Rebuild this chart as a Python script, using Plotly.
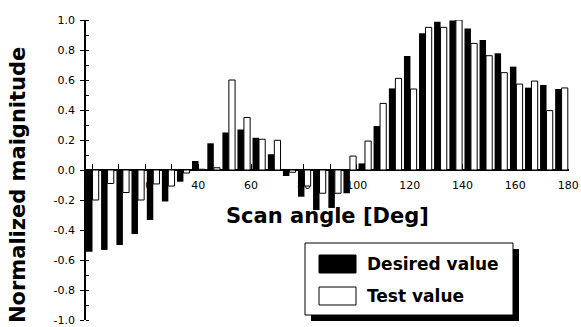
import plotly.graph_objects as go

# Scan angles (deg)
angles = [0, 5.7, 11.5, 17.2, 23.0, 28.7, 34.4, 40.1, 45.9, 51.6, 57.3, 63.0,
          68.8, 74.5, 80.2, 85.9, 91.7, 97.4, 103.1, 108.8, 114.6, 120.3, 126.0,
          131.7, 137.5, 143.2, 148.9, 154.6, 160.4, 166.1, 171.8, 177.5]

desired_value = [-0.545, -0.533, -0.50, -0.427, -0.333, -0.21, -0.078, 0.06,
                 0.178, 0.25, 0.27, 0.215, 0.105, -0.04, -0.178, -0.267, -0.253,
                 -0.155, 0.044, 0.293, 0.544, 0.76, 0.911, 0.989, 0.996, 0.944,
                 0.867, 0.778, 0.689, 0.549, 0.567, 0.54]

test_value = [-0.20, -0.09, -0.15, -0.20, -0.093, -0.107, -0.02, 0.005,
              0.015, 0.60, 0.35, 0.205, 0.198, -0.015, -0.107, -0.155, -0.155,
              0.093, 0.193, 0.444, 0.611, 0.54, 0.951, 0.951, 1.0, 0.844,
              0.762, 0.649, 0.573, 0.593, 0.396, 0.547]

x_ticks = [0, 20, 40, 60, 80, 100, 120, 140, 160, 180]
y_ticks = [-1.0, -0.8, -0.6, -0.4, -0.2, 0.0, 0.2, 0.4, 0.6, 0.8, 1.0]

W, H = 581, 327
L, R, T, B = 86, 12, 20, 7
PW, PH = W - L - R, H - T - B

def px(x):
    return (x - L) / PW

def py(y):
    return (H - B - y) / PH

fig = go.Figure()
fig.add_trace(go.Bar(x=angles, y=desired_value, name="Desired value",
                     offset=-2.45, width=2.45,
                     marker=dict(color="black", line=dict(width=0))))
fig.add_trace(go.Bar(x=angles, y=test_value, name="Test value",
                     offset=0, width=2.35,
                     marker=dict(color="white", line=dict(color="black", width=1))))

tick_font = dict(family="DejaVu Sans", size=11, color="black")

fig.update_layout(
    width=W, height=H,
    margin=dict(l=L, r=R, t=T, b=B, autoexpand=False),
    paper_bgcolor="white", plot_bgcolor="white",
    barmode="overlay", showlegend=False,
    xaxis=dict(range=[-2.46, 180.3], anchor="free", position=0.5,
               automargin=False,
               showline=True, linecolor="black", linewidth=1.5,
               tickvals=x_ticks, ticktext=[str(v) for v in x_ticks],
               ticks="inside", ticklen=5, tickcolor="black",
               minor=dict(tickvals=[10, 30, 50, 70, 90, 110, 130, 150, 170],
                          ticks="inside", ticklen=5, tickcolor="black"),
               showgrid=False, zeroline=False, tickfont=tick_font,
               layer="below traces", ticklabelstandoff=5),
    yaxis=dict(range=[-1, 1], automargin=False,
               showline=True, linecolor="black", linewidth=1.5,
               tickvals=y_ticks, ticktext=["%.1f" % v for v in y_ticks],
               ticks="outside", ticklen=4, tickcolor="black",
               minor=dict(dtick=0.1, ticks="inside", ticklen=3, tickcolor="black"),
               showgrid=False, zeroline=False, tickfont=tick_font,
               layer="below traces", ticklabelstandoff=3),
)

title_font = dict(family="DejaVu Sans", size=21, color="black", weight="bold")
fig.add_annotation(text="Normalized maignitude", xref="paper", yref="paper",
                   x=px(18), y=py(185), textangle=-90, showarrow=False,
                   xanchor="center", yanchor="middle", font=title_font)
fig.add_annotation(text="Scan angle [Deg]", xref="paper", yref="paper",
                   x=px(327), y=py(216), showarrow=False,
                   xanchor="center", yanchor="middle", font=title_font)

# Legend box with drop shadow
fig.add_shape(type="rect", xref="paper", yref="paper",
              x0=px(311), x1=px(519), y0=py(321), y1=py(249),
              fillcolor="black", line=dict(width=0))
fig.add_shape(type="rect", xref="paper", yref="paper",
              x0=px(305), x1=px(513), y0=py(315), y1=py(243),
              fillcolor="white", line=dict(color="black", width=1))
fig.add_shape(type="rect", xref="paper", yref="paper",
              x0=px(319), x1=px(356), y0=py(273), y1=py(255),
              fillcolor="black", line=dict(color="black", width=1))
fig.add_shape(type="rect", xref="paper", yref="paper",
              x0=px(319), x1=px(356), y0=py(305), y1=py(287),
              fillcolor="white", line=dict(color="black", width=1))
leg_font = dict(family="DejaVu Sans", size=17, color="black", weight="bold")
fig.add_annotation(text="Desired value", xref="paper", yref="paper",
                   x=px(365), y=py(264), showarrow=False,
                   xanchor="left", yanchor="middle", font=leg_font)
fig.add_annotation(text="Test value", xref="paper", yref="paper",
                   x=px(365), y=py(296), showarrow=False,
                   xanchor="left", yanchor="middle", font=leg_font)

fig.write_html("out.html",
               config={"displayModeBar": False},
               post_script="document.body.style.margin='0';document.body.style.padding='0';")
